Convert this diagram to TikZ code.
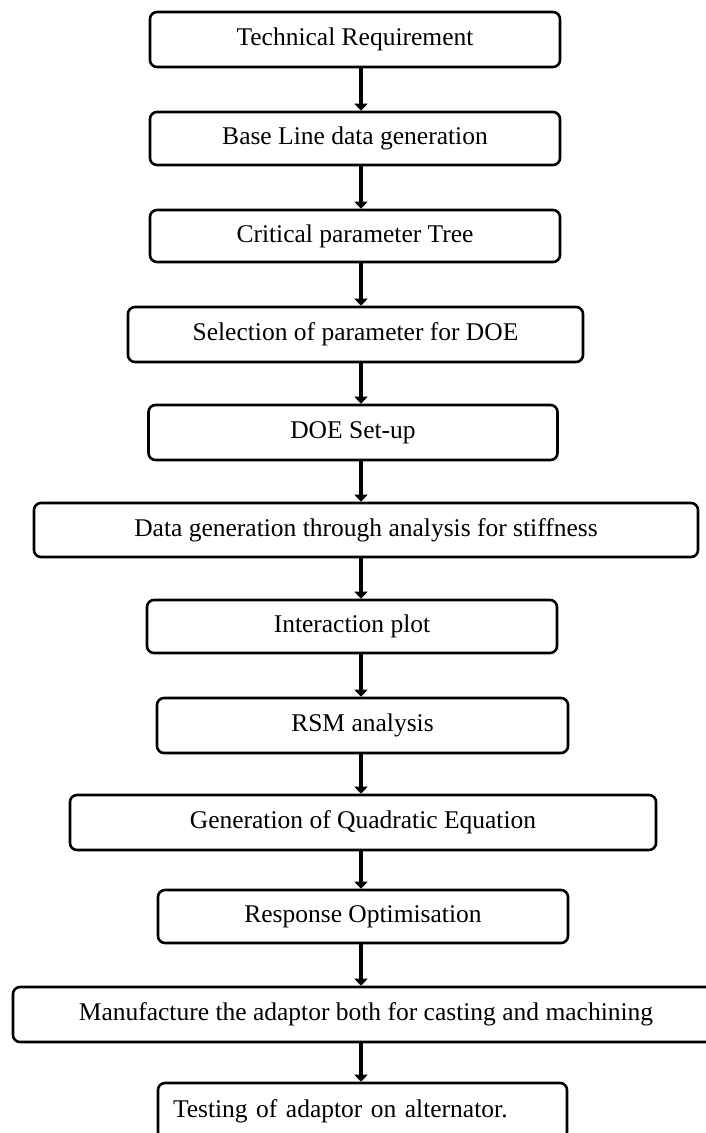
\documentclass[tikz,border=0pt]{standalone}
\usepackage{fontspec}
\setmainfont{Liberation Serif}
\usetikzlibrary{arrows.meta}
\tikzset{
  stepbox/.style={draw, line width=2.6pt, rounded corners=7pt, fill=white,
    inner sep=0pt, font=\fontsize{25.5}{28}\selectfont},
  flow/.style={line width=4pt, -{Triangle[length=7pt,width=13pt]}}
}
\begin{document}
\begin{tikzpicture}[x=1pt,y=-1pt]
\useasboundingbox (0,0) rectangle (706,1133);
\coordinate (axis) at (361,0);
% boxes
\node[stepbox, minimum width=410pt, minimum height=55pt] (tech)  at (355,39.5)  {Technical Requirement};
\node[stepbox, minimum width=410pt, minimum height=53pt] (base)  at (355,138.5) {Base Line data generation};
\node[stepbox, minimum width=410pt, minimum height=52pt] (crit)  at (355,236)   {Critical parameter Tree};
\node[stepbox, minimum width=455pt, minimum height=55pt] (sel)   at (355.5,334.5) {Selection of parameter for DOE};
\node[stepbox, minimum width=409pt, minimum height=55pt] (doe)   at (353,432.5) {DOE Set-up};
\node[stepbox, minimum width=664pt, minimum height=54pt] (data)  at (366,530)   {Data generation through analysis for stiffness};
\node[stepbox, minimum width=410pt, minimum height=53pt] (inter) at (352,626.5) {Interaction plot};
\node[stepbox, minimum width=411pt, minimum height=55pt] (rsm)   at (362.5,725.5) {RSM analysis};
\node[stepbox, minimum width=586pt, minimum height=55pt] (quad)  at (363,822.5) {Generation of Quadratic Equation};
\node[stepbox, minimum width=410pt, minimum height=53pt] (resp)  at (363,916.5) {Response Optimisation};
\node[stepbox, minimum width=706pt, minimum height=55pt] (manu)  at (366,1014.5) {Manufacture the adaptor both for casting and machining};
\node[stepbox, minimum width=409pt, minimum height=56pt, text width=379pt, inner xsep=15pt, align=left] (test) at (362.5,1111) {Testing of adaptor on alternator.};
% arrows
\foreach \a/\b in {tech/base,base/crit,crit/sel,sel/doe,doe/data,data/inter,inter/rsm,rsm/quad,quad/resp,resp/manu,manu/test}
  \draw[flow] (\a.south -| axis) -- (\b.north -| axis);
\end{tikzpicture}
\end{document}
